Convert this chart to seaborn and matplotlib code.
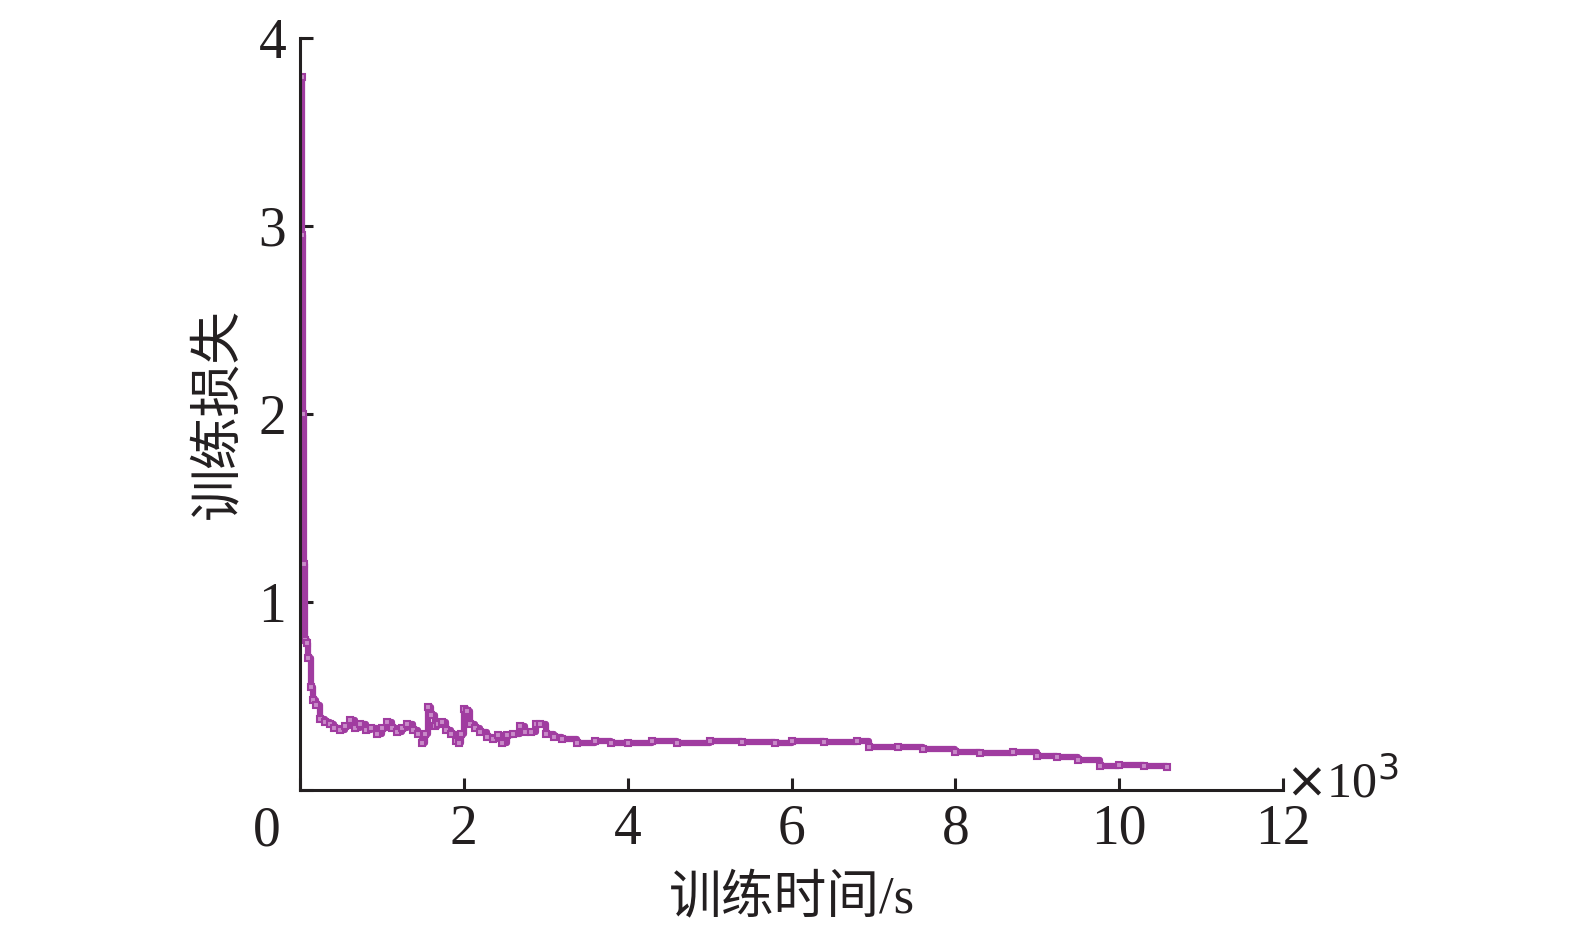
import matplotlib
matplotlib.use("Agg")
import matplotlib.pyplot as plt
import seaborn as sns
import pandas as pd

# training time (x10^3 s) and training loss
time_k = [0.02, 0.03, 0.04, 0.05, 0.06, 0.08, 0.10, 0.13, 0.16, 0.20, 0.24, 0.30,
          0.36, 0.42, 0.49, 0.55, 0.61, 0.67, 0.73, 0.80, 0.87, 0.94, 1.00, 1.06,
          1.12, 1.18, 1.24, 1.31, 1.38, 1.44, 1.49, 1.53, 1.56, 1.60, 1.65, 1.69,
          1.73, 1.78, 1.84, 1.90, 1.94, 1.97, 2.00, 2.04, 2.08, 2.14, 2.20, 2.28,
          2.36, 2.42, 2.47, 2.53, 2.60, 2.69, 2.75, 2.82, 2.88, 2.93, 3.00, 3.10,
          3.20, 3.38, 3.60, 3.80, 4.00, 4.30, 4.60, 5.00, 5.40, 5.80, 6.00, 6.40,
          6.80, 6.95, 7.30, 7.60, 8.00, 8.30, 8.70, 9.00, 9.24, 9.50, 9.77, 10.00,
          10.30, 10.59]
loss = [3.79, 2.95, 2.00, 1.20, 0.80, 0.78, 0.70, 0.55, 0.48, 0.45, 0.38, 0.36,
        0.35, 0.33, 0.32, 0.34, 0.37, 0.33, 0.35, 0.32, 0.33, 0.30, 0.33, 0.36,
        0.33, 0.31, 0.33, 0.35, 0.32, 0.30, 0.25, 0.30, 0.44, 0.40, 0.34, 0.35,
        0.36, 0.32, 0.30, 0.26, 0.25, 0.30, 0.43, 0.42, 0.35, 0.33, 0.31, 0.28,
        0.27, 0.29, 0.25, 0.29, 0.30, 0.34, 0.31, 0.31, 0.35, 0.35, 0.30, 0.28,
        0.27, 0.25, 0.26, 0.25, 0.25, 0.26, 0.25, 0.26, 0.255, 0.25, 0.26, 0.255,
        0.26, 0.23, 0.23, 0.22, 0.20, 0.195, 0.20, 0.18, 0.175, 0.16, 0.125, 0.135,
        0.13, 0.12]

x_ticks = [0, 2, 4, 6, 8, 10, 12]
y_ticks = [0, 1, 2, 3, 4]

df = pd.DataFrame({"time": time_k, "loss": loss})

sns.set_theme(style="ticks")
plt.rcParams['font.family'] = ['Liberation Serif', 'Noto Sans CJK SC']

fig = plt.figure(figsize=(15.75, 9.38), dpi=100)
ax = fig.add_axes([0.1905, 0.1578, 0.6241, 0.8017])

color = "#A03CA0"
sns.lineplot(data=df, x="time", y="loss", ax=ax, color=color, linewidth=4.5,
             drawstyle="steps-post", marker="s", markersize=5,
             markeredgecolor=color, markerfacecolor="#C98BC9", markeredgewidth=1.5)

ax.set_xlim(0, 12)
ax.set_ylim(0, 4)
ax.set_xticks(x_ticks)
ax.set_yticks(y_ticks)
ax.set_xticklabels([""] + [str(t) for t in x_ticks[1:]])
ax.set_yticklabels([""] + [str(t) for t in y_ticks[1:]])

for s in ["top", "right"]:
    ax.spines[s].set_visible(False)
for s in ["left", "bottom"]:
    ax.spines[s].set_linewidth(2.2)
    ax.spines[s].set_color("#231f20")

ax.tick_params(direction="in", length=9, width=2.2, color="#231f20",
               labelsize=40, labelcolor="#231f20", pad=10)

ax.set_xlabel("训练时间/s", fontsize=38, color="#231f20", labelpad=14,
              family=['Liberation Serif', 'Noto Sans CJK SC'])
ax.set_ylabel("训练损失", fontsize=38, color="#231f20", labelpad=10,
              family=['Liberation Serif', 'Noto Sans CJK SC'])

ax.text(-0.02, -0.055, "0", transform=ax.transAxes, fontsize=40,
        color="#231f20", ha="right", va="center")
ax.text(1.002, -0.025, r"$\times$10$^3$", transform=ax.transAxes, fontsize=36,
        color="#231f20", ha="left", va="bottom")

fig.savefig("out.png", dpi=100)
